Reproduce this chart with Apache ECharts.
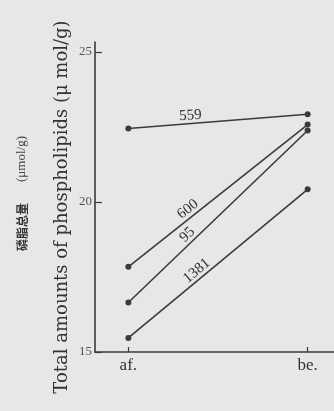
<!DOCTYPE html>
<html>
<head>
<meta charset="utf-8">
<script src="https://cdn.jsdelivr.net/npm/echarts@6/dist/echarts.min.js"></script>
<style>
  html, body { margin: 0; padding: 0; background: #e7e7e5; }
  #main { width: 334px; height: 411px; }
</style>
</head>
<body>
<div id="main"></div>
<script>
  // x positions: af. = 0, be. = 1
  var categories = ['af.', 'be.'];
  var yTicks = [15, 20, 25];
  var s559 = [22.45, 22.92];
  var s600 = [17.84, 22.58];
  var s95 = [16.65, 22.38];
  var s1381 = [15.47, 20.42];
  var seriesNames = ['559', '600', '95', '1381'];
  var seriesData = [s559, s600, s95, s1381];
  // where each line's label sits along the line (fraction of af->be)
  var labelAt = [0.35, 0.36, 0.36, 0.41];

  var ink = '#3b3b3b';
  var serif = 'Liberation Serif';

  var chart = echarts.init(document.getElementById('main'));

  //build series from arrays
  var series = seriesData.map(function (d, i) {
    return {
      name: seriesNames[i],
      type: 'line',
      data: [[0, d[0]], [1, d[1]]],
      symbol: 'circle',
      symbolSize: 6,
      lineStyle: { color: ink, width: 1.6 },
      itemStyle: { color: ink },
      silent: true,
      animation: false
    };
  });

  var option = {
    backgroundColor: '#e7e7e5',
    animation: false,
    grid: { left: 95, right: 0, top: 42, bottom: 59 },
    xAxis: {
      type: 'value',
      min: -0.186,
      max: 1.147,
      axisLine: { onZero: false, lineStyle: { color: ink, width: 1.6 } },
      splitLine: { show: false },
      axisTick: { inside: true, length: 5, lineStyle: { color: ink, width: 1.2 }, customValues: [0, 1] },
      axisLabel: {
        customValues: [0, 1],
        formatter: function (v) { return categories[Math.round(v)]; },
        fontFamily: serif, fontSize: 17, color: '#333', margin: 5
      }
    },
    yAxis: {
      type: 'value',
      min: 15,
      max: 25.33,
      axisLine: { show: true, onZero: false, lineStyle: { color: ink, width: 1.6 } },
      splitLine: { show: false },
      axisTick: { show: true, inside: true, length: 7, lineStyle: { color: ink, width: 1.2 }, customValues: yTicks },
      axisLabel: {
        customValues: yTicks,
        fontFamily: serif, fontSize: 13, color: '#555', margin: 3
      }
    },
    series: series
  };
  chart.setOption(option);

  //line labels and axis titles
  var graphics = [];
  seriesData.forEach(function (d, i) {
    var t = labelAt[i];
    var p0 = chart.convertToPixel({ gridIndex: 0 }, [0, d[0]]);
    var p1 = chart.convertToPixel({ gridIndex: 0 }, [1, d[1]]);
    var x = p0[0] + (p1[0] - p0[0]) * t;
    var y = p0[1] + (p1[1] - p0[1]) * t;
    var ang = Math.atan2(-(p1[1] - p0[1]), p1[0] - p0[0]);
    var off = 8;
    graphics.push({
      type: 'text',
      x: x - Math.sin(ang) * off,
      y: y - Math.cos(ang) * off,
      rotation: ang,
      style: {
        text: seriesNames[i],
        fontFamily: serif, fontSize: 15, fill: '#333',
        align: 'center', verticalAlign: 'middle'
      }
    });
  });
  graphics.push({
    type: 'text', x: 62, y: 207, rotation: Math.PI / 2,
    style: {
      text: 'Total amounts of phospholipids (\u03bc mol/g)',
      fontFamily: 'DejaVu Serif', fontSize: 18, fill: '#333',
      align: 'center', verticalAlign: 'middle'
    }
  });
  graphics.push({
    type: 'text', x: 22, y: 227, rotation: Math.PI / 2,
    style: {
      text: '磷脂总量',
      fontFamily: 'Noto Sans CJK SC', fontWeight: 'bold', fontSize: 12, fill: '#333',
      align: 'center', verticalAlign: 'middle'
    }
  });
  graphics.push({
    type: 'text', x: 22, y: 159, rotation: Math.PI / 2,
    style: {
      text: '(\u03bcmol/g)',
      fontFamily: serif, fontSize: 13, fill: '#444',
      align: 'center', verticalAlign: 'middle'
    }
  });
  chart.setOption({ graphic: graphics });
</script>
</body>
</html>
